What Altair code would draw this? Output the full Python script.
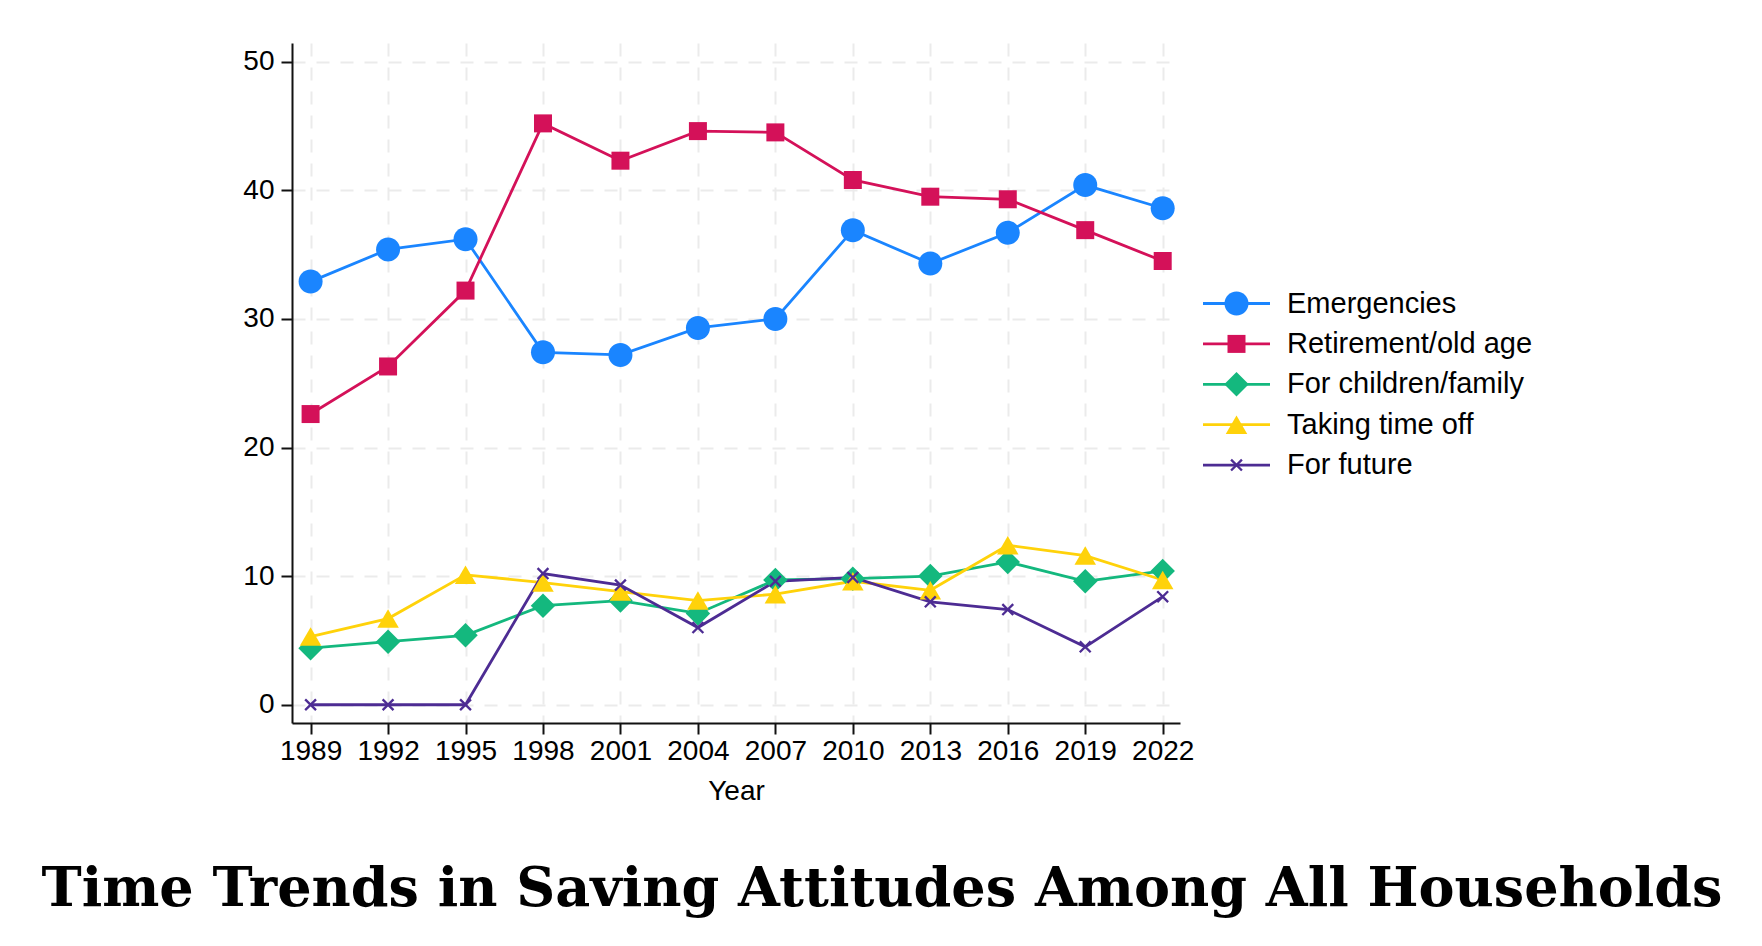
import altair as alt
import pandas as pd

# survey years and share of households (%) naming each saving motive
years = [1989, 1992, 1995, 1998, 2001, 2004, 2007, 2010, 2013, 2016, 2019, 2022]
emergencies = [32.9, 35.4, 36.2, 27.4, 27.2, 29.3, 30.0, 36.9, 34.3, 36.7, 40.4, 38.6]
retirement = [22.6, 26.3, 32.2, 45.2, 42.3, 44.6, 44.5, 40.8, 39.5, 39.3, 36.9, 34.5]
children = [4.4, 4.9, 5.4, 7.7, 8.1, 7.1, 9.7, 9.8, 10.0, 11.1, 9.6, 10.4]
time_off = [5.3, 6.7, 10.1, 9.5, 8.8, 8.1, 8.6, 9.6, 8.9, 12.4, 11.6, 9.7]
future = [0.0, 0.0, 0.0, 10.2, 9.3, 6.0, 9.6, 9.9, 8.0, 7.4, 4.5, 8.4]

names = ["Emergencies", "Retirement/old age", "For children/family",
         "Taking time off", "For future"]
values = [emergencies, retirement, children, time_off, future]
colors = ["#1a85ff", "#d41159", "#14b87e", "#ffd20a", "#4d2c93"]
y_ticks = [0, 10, 20, 30, 40, 50]


# marker outlines for size 100 (1 unit = 5px)
def circle(r):
    return f"M{r},0A{r},{r},0,1,1,-{r},0A{r},{r},0,1,1,{r},0Z"


def square(h):
    return f"M-{h},-{h}H{h}V{h}H-{h}Z"


def diamond(h):
    return f"M0,-{h}L{h},0L0,{h}L-{h},0Z"


def triangle(w, h):
    return f"M0,-{h}L{w},{h}L-{w},{h}Z"


def xmark(h, t):
    a = round(h - t, 3)
    return (f"M-{h},-{a}L-{a},-{h}L{h},{a}L{a},{h}Z"
            f"M-{a},{h}L-{h},{a}L{a},-{h}L{h},-{a}Z")


shapes = [circle(2.4), square(1.8), diamond(2.45), triangle(2.15, 1.85),
          xmark(1.25, 0.33)]
key_line = "M-6.7,0H6.7"

rows = []
for name, vals in zip(names, values):
    for yr, v in zip(years, vals):
        rows.append({"year": yr, "value": v, "series": name, "series_l": name})
df = pd.DataFrame(rows)

FONT = "Liberation Sans"


def key_legend(**kw):
    # the two legends sit on top of each other: lines below, markers above
    return alt.Legend(
        title=None, orient="none", legendX=930, legendY=246,
        symbolSize=100, labelOffset=36, rowPadding=10.4, padding=0,
        labelFont=FONT, labelFontSize=29, labelColor="black", labelLimit=0,
        **kw,
    )


x_enc = alt.X(
    "year:Q",
    scale=alt.Scale(domain=[1988.28, 2022.67], nice=False, zero=False),
    axis=alt.Axis(values=years, format="d", title="Year",
                  labelPadding=3, titlePadding=12),
)
y_enc = alt.Y(
    "value:Q",
    scale=alt.Scale(domain=[-1.42, 51.45], nice=False, zero=False),
    axis=alt.Axis(values=y_ticks, title=None, labelPadding=7),
)

lines = alt.Chart(df).mark_line(strokeWidth=2.8).encode(
    x=x_enc,
    y=y_enc,
    stroke=alt.Stroke(
        "series_l:N", sort=names, scale=alt.Scale(range=colors),
        legend=key_legend(symbolType=key_line, symbolStrokeWidth=2.8, zindex=0),
    ),
)

points = alt.Chart(df).mark_point(filled=True, opacity=1, size=100,
                                  strokeWidth=0).encode(
    x=x_enc,
    y=y_enc,
    fill=alt.Fill(
        "series:N", scale=alt.Scale(domain=names, range=colors),
        legend=key_legend(labelOpacity=0, symbolStrokeWidth=0, symbolOpacity=1,
                          zindex=1),
    ),
    shape=alt.Shape("series:N", scale=alt.Scale(domain=names, range=shapes)),
)

chart = (
    alt.layer(lines, points)
    .properties(
        width=888,
        height=680,
        autosize=alt.AutoSizeParams(type="none"),
        padding={"left": 284, "top": 35, "right": 560, "bottom": 200},
        title=alt.TitleParams(
            "Time Trends in Saving Attitudes Among All Households",
            orient="bottom", anchor="middle", frame="group", dx=146, offset=58,
            font="DejaVu Serif", fontSize=54, fontWeight="bold", color="black",
        ),
    )
    .configure_view(stroke=None)
    .configure_axis(
        labelFont=FONT, labelFontSize=28, labelColor="black",
        titleFont=FONT, titleFontSize=28, titleFontWeight="normal",
        titleColor="black",
        domainColor="#111111", domainWidth=2,
        tickColor="#111111", tickWidth=2, tickSize=11,
        grid=True, gridColor="#ebebeb", gridWidth=2, gridDash=[13, 11],
    )
)

chart.save("out.html", embed_options={"renderer": "svg", "actions": False})
